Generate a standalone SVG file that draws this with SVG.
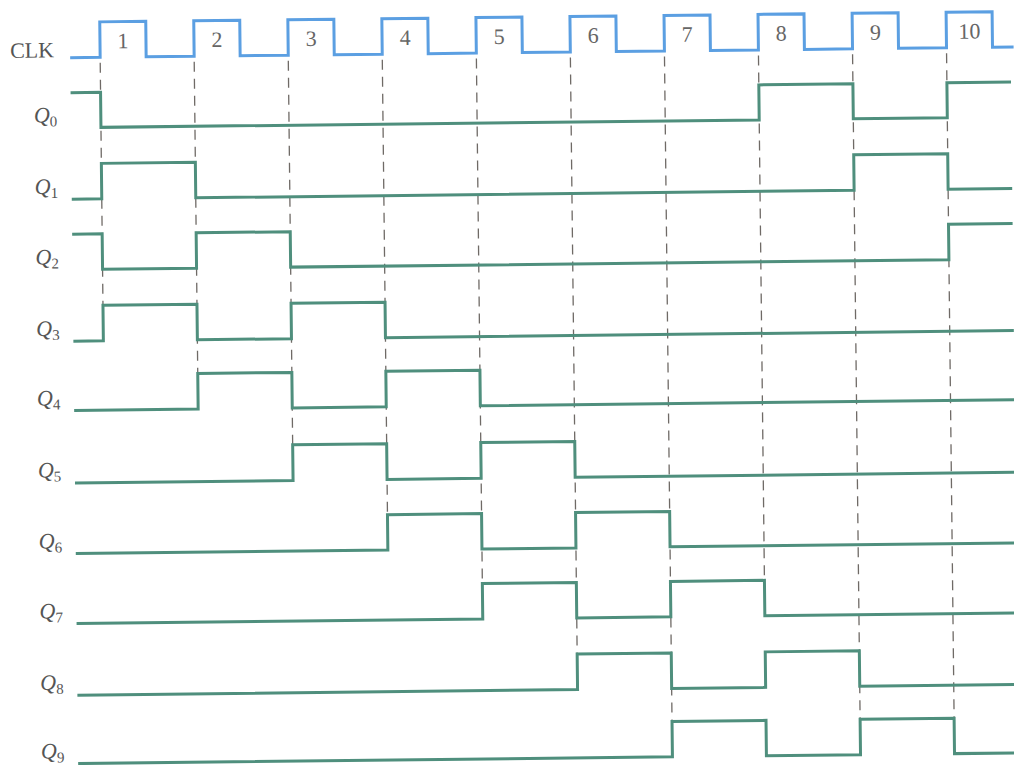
<svg xmlns="http://www.w3.org/2000/svg" width="1014" height="765" viewBox="0 0 1014 765">
<style>
.clk{fill:none;stroke:#5b9fe2;stroke-width:3;stroke-linejoin:miter}
.sig{fill:none;stroke:#4f8f7d;stroke-width:3;stroke-linejoin:miter}
.dash{fill:none;stroke:#6f6a66;stroke-width:1.3;stroke-dasharray:10 7}
.lbl{font-family:"Liberation Serif","Times New Roman",serif;font-size:22px;fill:#555}
.ql{font-family:"Liberation Serif","Times New Roman",serif;font-size:22px;font-style:italic;fill:#555}
.sub{font-size:15px;font-style:normal}
.num{font-family:"Liberation Serif","Times New Roman",serif;font-size:22px;fill:#666;text-anchor:middle}
</style>
<rect width="1014" height="765" fill="#ffffff"/>
<g transform="rotate(-0.65)">
<g id="connectors">
<path class="dash" d="M99.5,64 V306.5"/>
<path class="dash" d="M193.5,64 V375.7"/>
<path class="dash" d="M287.6,64 V448"/>
<path class="dash" d="M381.6,64 V519"/>
<path class="dash" d="M475.7,64 V589"/>
<path class="dash" d="M569.7,64 V660.5"/>
<path class="dash" d="M663.8,64 V729"/>
<path class="dash" d="M757.8,64 V589"/>
<path class="dash" d="M851.9,64 V729"/>
<path class="dash" d="M945.9,64 V729"/>
</g>
<g id="clk">
<text class="lbl" x="9.5" y="58">CLK</text>
<path class="clk" d="M69.5,58.5 H99.5 V23 H145.5 V58.5 H193.5 V23 H239.5 V58.5 H287.6 V23 H333.6 V58.5 H381.6 V23 H427.6 V58.5 H475.7 V23 H521.7 V58.5 H569.7 V23 H615.7 V58.5 H663.8 V23 H709.8 V58.5 H757.8 V23 H803.8 V58.5 H851.9 V23 H897.9 V58.5 H945.9 V23 H991.9 V58.5 H1013"/>
<text class="num" x="122.5" y="49.5">1</text>
<text class="num" x="216.5" y="49.5">2</text>
<text class="num" x="310.6" y="49.5">3</text>
<text class="num" x="404.6" y="49.5">4</text>
<text class="num" x="498.7" y="49.5">5</text>
<text class="num" x="592.7" y="49.5">6</text>
<text class="num" x="686.8" y="49.5">7</text>
<text class="num" x="780.8" y="49.5">8</text>
<text class="num" x="874.9" y="49.5">9</text>
<text class="num" x="968.9" y="49.5">10</text>
</g>
<g id="q0">
<text class="ql" x="32.5" y="123">Q<tspan class="sub" dy="4">0</tspan></text>
<path class="sig" d="M69.5,93.5 H99.5 V128.5 H757.8 V93.5 H851.9 V128.5 H945.9 V93.5 H1010"/>
</g>
<g id="q1">
<text class="ql" x="32.5" y="194.5">Q<tspan class="sub" dy="4">1</tspan></text>
<path class="sig" d="M69.5,200 H99.5 V164.5 H193.5 V200 H851.9 V164.5 H945.9 V200 H1010"/>
</g>
<g id="q2">
<text class="ql" x="32.5" y="265">Q<tspan class="sub" dy="4">2</tspan></text>
<path class="sig" d="M69.5,235 H99.5 V270.4 H193.5 V235 H287.6 V270.4 H945.9 V235 H1010"/>
</g>
<g id="q3">
<text class="ql" x="32.5" y="336.5">Q<tspan class="sub" dy="4">3</tspan></text>
<path class="sig" d="M69.5,342 H99.5 V306.5 H193.5 V342 H287.6 V306.5 H381.6 V342 H1010"/>
</g>
<g id="q4">
<text class="ql" x="32.5" y="406">Q<tspan class="sub" dy="4">4</tspan></text>
<path class="sig" d="M69.5,411.2 H193.5 V375.7 H287.6 V411.2 H381.6 V375.7 H475.7 V411.2 H1010"/>
</g>
<g id="q5">
<text class="ql" x="32.5" y="478">Q<tspan class="sub" dy="4">5</tspan></text>
<path class="sig" d="M69.5,483.8 H287.6 V448 H381.6 V483.8 H475.7 V448 H569.7 V483.8 H1010"/>
</g>
<g id="q6">
<text class="ql" x="32.5" y="549">Q<tspan class="sub" dy="4">6</tspan></text>
<path class="sig" d="M69.5,554.4 H381.6 V519 H475.7 V554.4 H569.7 V519 H663.8 V554.4 H1010"/>
</g>
<g id="q7">
<text class="ql" x="32.5" y="619">Q<tspan class="sub" dy="4">7</tspan></text>
<path class="sig" d="M69.5,624.4 H475.7 V589 H569.7 V624.4 H663.8 V589 H757.8 V624.4 H1010"/>
</g>
<g id="q8">
<text class="ql" x="32.5" y="690.5">Q<tspan class="sub" dy="4">8</tspan></text>
<path class="sig" d="M69.5,696 H569.7 V660.5 H663.8 V696 H757.8 V660.5 H851.9 V696 H1010"/>
</g>
<g id="q9">
<text class="ql" x="32.5" y="759">Q<tspan class="sub" dy="4">9</tspan></text>
<path class="sig" d="M69.5,764.4 H663.8 V729 H757.8 V764.4 H851.9 V729 H945.9 V764.4 H1010"/>
</g>
</g>
</svg>
